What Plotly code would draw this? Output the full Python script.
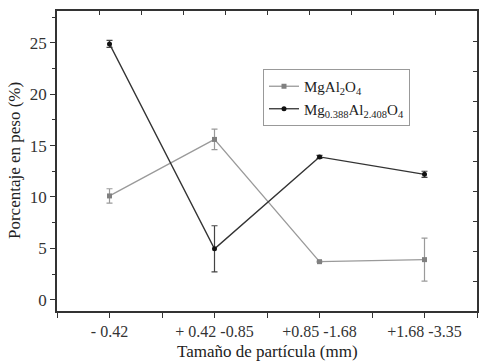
import plotly.graph_objects as go

categories = ["- 0.42", "+ 0.42 -0.85", "+0.85 -1.68", "+1.68 -3.35"]
mgal2o4 = [10.1, 15.6, 3.7, 3.9]
mgal2o4_err = [0.7, 1.0, 0.05, 2.1]
mg_non = [24.9, 4.95, 13.9, 12.2]
mg_non_err = [0.35, 2.25, 0.15, 0.3]

xpos = list(range(len(categories)))
font_family = "Liberation Serif, Times New Roman, serif"

fig = go.Figure()
fig.add_trace(go.Scatter(
    x=xpos, y=mgal2o4, mode="lines+markers",
    name="MgAl<sub>2</sub>O<sub>4</sub>",
    line=dict(color="#9a9a9a", width=1.3),
    marker=dict(symbol="square", size=5, color="#808080"),
    error_y=dict(type="data", array=mgal2o4_err, color="#9a9a9a", thickness=1.2, width=3),
))
fig.add_trace(go.Scatter(
    x=xpos, y=mg_non, mode="lines+markers",
    name="Mg<sub>0.388</sub>Al<sub>2.408</sub>O<sub>4</sub>",
    line=dict(color="#333333", width=1.3),
    marker=dict(symbol="circle", size=5, color="#111111"),
    error_y=dict(type="data", array=mg_non_err, color="#444444", thickness=1.2, width=3),
))

# overlay axes for inward ticks on top and right
fig.add_trace(go.Scatter(x=[0], y=[0], xaxis="x2", yaxis="y2", mode="markers",
                         marker=dict(opacity=0), showlegend=False, hoverinfo="skip"))

fig.update_layout(
    width=489, height=364,
    margin=dict(l=57, r=12, t=11, b=53, autoexpand=False),
    paper_bgcolor="white", plot_bgcolor="white",
    font=dict(family=font_family, size=14, color="#333333"),
    showlegend=True,
    legend=dict(x=(263 - 57) / 420, y=(311 - 69) / 300, xanchor="left", yanchor="top",
                bordercolor="#999999", borderwidth=1, bgcolor="white",
                font=dict(family=font_family, size=15, color="#222222"),
                tracegroupgap=0, itemwidth=30),
    xaxis=dict(range=[-0.5, 3.5], tickmode="array", tickvals=xpos, ticktext=categories,
               automargin=False,
               showgrid=False, zeroline=False, showline=True, linecolor="#333333", linewidth=1.5,
               ticks="outside", ticklen=5, tickcolor="#333333", tickwidth=1.2,
               tickfont=dict(family=font_family, size=16, color="#333333"),
               minor=dict(ticks="outside", ticklen=5, tickcolor="#333333", tickwidth=1.2, dtick=0.5, tick0=-0.5, showgrid=False)),
    yaxis=dict(range=[-1.1, 28.1], tickmode="array", tickvals=[0, 5, 10, 15, 20, 25],
               automargin=False,
               showgrid=False, zeroline=False, showline=True, linecolor="#333333", linewidth=1.5,
               ticks="outside", ticklen=5, tickcolor="#333333", tickwidth=1.2,
               tickfont=dict(family=font_family, size=17, color="#333333"),
               minor=dict(ticks="outside", ticklen=3, tickcolor="#333333", tickwidth=1.2, dtick=2.5, tick0=0, showgrid=False)),
    xaxis2=dict(overlaying="x", side="top", range=[0, 10], tickvals=list(range(1, 10)),
                automargin=False,
                showticklabels=False, ticks="inside", ticklen=4, tickcolor="#333333", tickwidth=1.2,
                showline=True, linecolor="#333333", linewidth=1.5, showgrid=False, zeroline=False),
    yaxis2=dict(overlaying="y", side="right", range=[10, 0], tickvals=list(range(1, 10)),
                automargin=False,
                showticklabels=False, ticks="inside", ticklen=4, tickcolor="#333333", tickwidth=1.2,
                showline=True, linecolor="#333333", linewidth=1.5, showgrid=False, zeroline=False),
    annotations=[
        dict(text="Porcentaje en peso (%)", x=(14 - 57) / 420, y=(311 - 161) / 300,
             xref="paper", yref="paper", xanchor="center", yanchor="middle",
             showarrow=False, textangle=-90, font=dict(family=font_family, size=17, color="#222222")),
        dict(text="Tamaño de partícula (mm)", x=(267 - 57) / 420, y=(311 - 351) / 300,
             xref="paper", yref="paper", xanchor="center", yanchor="middle",
             showarrow=False,
             font=dict(family=font_family, size=17, color="#222222")),
    ],
)

fig.write_html("out.html", config={"displayModeBar": False},
               post_script="document.body.style.margin='0';document.body.style.padding='0';")
